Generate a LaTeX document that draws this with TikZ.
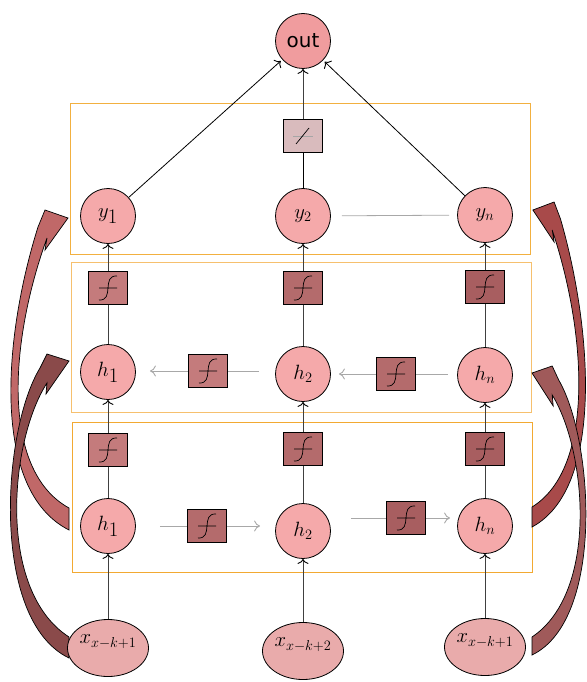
\documentclass[tikz,border=0pt]{standalone}
\usepackage{fontspec}
\newfontfamily\outfont{DejaVu Sans}
\usetikzlibrary{arrows.meta,shapes.geometric}
\definecolor{cfill}{HTML}{F5A9AA}
\definecolor{ofill}{HTML}{F09C9E}
\definecolor{efill}{HTML}{E9ABAB}
\definecolor{lfill}{HTML}{D9BBBD}
\definecolor{sA}{HTML}{C47B7C}
\definecolor{sB}{HTML}{B46B6C}
\definecolor{sC}{HTML}{A85E60}
\definecolor{bA}{HTML}{C06868}
\definecolor{bB}{HTML}{8A4A4A}
\definecolor{bC}{HTML}{A84A4A}
\definecolor{bD}{HTML}{A05A5A}
\definecolor{frameone}{RGB}{242,176,64}
\definecolor{frametwo}{RGB}{246,192,110}
\definecolor{framethree}{RGB}{242,169,50}
\definecolor{hgray}{HTML}{A8A8A8}
\begin{document}
\begin{tikzpicture}[x=1bp,y=-1bp,line width=0.8bp,
 circ/.style={circle,draw,fill=cfill,minimum size=55bp,inner sep=0pt,font=\huge},
 ell/.style={ellipse,draw,fill=efill,minimum width=81bp,minimum height=57bp,inner sep=0pt,text depth=17pt,font=\huge},
 sigbox/.style={draw,fill=#1,minimum width=39bp,minimum height=33bp,inner sep=0pt,
   path picture={\draw[line width=0.7bp,shift={(path picture bounding box.center)}] (-9,0) -- (9,0) (-9,12) .. controls (7,13) and (-7,-13) .. (9,-12);}},
 linbox/.style={draw,fill=lfill,minimum width=39bp,minimum height=33bp,inner sep=0pt,
   path picture={\draw[line width=0.7bp,draw=black!35,shift={(path picture bounding box.center)}] (-10,0) -- (10,0);
                 \draw[line width=0.7bp,shift={(path picture bounding box.center)}] (-7,8) -- (6,-8);}},
 orbox/.style={draw=#1,line width=1bp},
 vline/.style={draw=black!75},
 varr/.style={draw=black!75,-{Computer Modern Rightarrow[length=5bp,width=11bp,color=black,line width=0.9bp]}},
 hline/.style={draw=hgray},
 harr/.style={draw=hgray,-{Computer Modern Rightarrow[length=6bp,width=11bp,line width=0.9bp]}},
 big/.style={draw=black,line width=0.7bp,fill=#1},
]
\useasboundingbox (0,0) rectangle (587,682);
% frames
\draw[orbox=frameone] (70.5,103.5) rectangle (530.5,254.5);
\draw[orbox=frametwo] (71.5,262.5) rectangle (531.5,412.5);
\draw[orbox=framethree] (72.5,422.5) rectangle (532.5,572.5);
% big curved arrows
\path[big=bA] (69,508) .. controls (0,470) and (10,340) .. (47,238) -- (45,250) -- (68,218) -- (45,210) -- (38,227) .. controls (4,335) and (-10,490) .. (69,530) -- cycle;
\path[big=bB] (69,637) .. controls (-4,590) and (10,440) .. (47,383) -- (46,394) -- (69,361) -- (47,354) -- (40,368) .. controls (2,430) and (-10,620) .. (69,658) -- cycle;
\path[big=bC] (532,507) .. controls (595.5,468) and (586.3,332) .. (552.2,230) -- (554.1,242) -- (532.9,210) -- (554.1,202) -- (560.5,219) .. controls (591.8,327) and (604.7,488) .. (532,527) -- cycle;
\path[big=bD] (532,637) .. controls (599.2,592) and (586.3,450) .. (552.2,395) -- (553.2,406) -- (532,373) -- (552.2,366) -- (558.7,380) .. controls (593.6,440) and (604.7,620) .. (532,655) -- cycle;
% nodes
\node[circ,fill=ofill,font=\outfont\fontsize{20}{24}\selectfont] (out) at (303,41) {out};
\node[linbox] (lin) at (303,136) {};
\node[circ] (y1) at (108,216) {$y_{\textstyle 1}$};
\node[circ] (y2) at (303,216) {$y_2$};
\node[circ] (yn) at (485,215) {$y_n$};
\node[sigbox=sA] (sm1) at (108,288) {};
\node[sigbox=sB] (sm2) at (303,288) {};
\node[sigbox=sC] (sm3) at (485,287) {};
\node[circ] (hm1) at (108,372) {$h_{\textstyle 1}$};
\node[circ] (hm2) at (303,374) {$h_2$};
\node[circ] (hmn) at (485,375) {$h_n$};
\node[sigbox=sA] (smh1) at (208,371) {};
\node[sigbox=sB] (smh2) at (396,374) {};
\node[sigbox=sA] (sb1) at (108,450) {};
\node[sigbox=sB] (sb2) at (303,449) {};
\node[sigbox=sC] (sb3) at (485,449) {};
\node[circ] (hb1) at (108,526) {$h_{\textstyle 1}$};
\node[circ] (hb2) at (303,531) {$h_2$};
\node[circ] (hbn) at (485,526) {$h_n$};
\node[sigbox=sB] (sbh1) at (207,526) {};
\node[sigbox=sC] (sbh2) at (406,518) {};
\node[ell] (x1) at (108,648) {$x_{x-k+1}$};
\node[ell] (x2) at (303,651) {$x_{x-k+2}$};
\node[ell] (x3) at (485,647) {$x_{x-k+1}$};
% vertical connectors
\foreach \a/\b in {x1/hb1,x2/hb2,x3/hbn,sb1/hm1,sb2/hm2,sb3/hmn,sm1/y1,sm2/y2,sm3/yn}
  \draw[varr] (\a) -- (\b);
\foreach \a/\b in {hb1/sb1,hb2/sb2,hbn/sb3,hm1/sm1,hm2/sm2,hmn/sm3}
  \draw[vline] (\a) -- (\b);
\draw[varr,draw=black,shorten >=2bp] (y1) -- (out);
\draw[varr,draw=black,shorten >=2bp] (yn) -- (out);
\draw[vline,draw=black] (y2) -- (lin);
\draw[varr] (lin) -- (out);
\draw[hline,shorten <=11bp,shorten >=8bp] (y2) -- (yn);
% bottom horizontal
\draw[hline,shorten <=24bp] (hb1) -- (sbh1);
\draw[harr,shorten >=15bp] (sbh1) -- (sbh1 -| hb2.west);
\draw[hline,shorten <=20bp] (sbh2 -| hb2.east) -- (sbh2);
\draw[harr,shorten >=7bp] (sbh2) -- (sbh2 -| hbn.west);
% middle horizontal
\draw[hline,shorten <=9bp] (smh2 -| hmn.west) -- (smh2);
\draw[harr,shorten >=8bp] (smh2) -- (smh2 -| hm2.east);
\draw[hline,shorten <=16bp] (smh1 -| hm2.west) -- (smh1);
\draw[harr,shorten >=14bp] (smh1) -- (smh1 -| hm1.east);
\end{tikzpicture}
\end{document}
